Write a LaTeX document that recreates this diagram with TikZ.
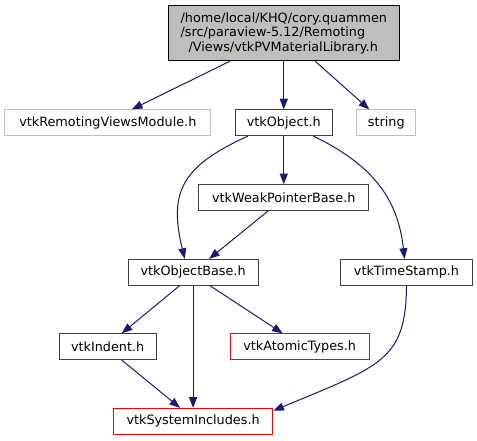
\documentclass[tikz,border=0pt]{standalone}
\usepackage{fontspec}
\setmainfont{DejaVu Sans}
\usetikzlibrary{arrows.meta,calc}
\definecolor{edgeblue}{RGB}{25,25,112}
\definecolor{boxgray}{RGB}{64,64,64}
\definecolor{lightgray}{RGB}{191,191,191}
\begin{document}
\begin{tikzpicture}[x=0.75pt,y=-0.75pt,
  every node/.style={font=\fontsize{9.6pt}{10.9pt}\selectfont, inner sep=0pt, line width=0.75pt},
  hbox/.style={draw=boxgray, fill=white, minimum height=19.2pt},
  gbox/.style={draw=lightgray, fill=white, minimum height=19.2pt},
  rbox/.style={draw=red, fill=white, minimum height=19.2pt},
  edge/.style={draw=edgeblue, line width=0.75pt, -{Triangle[length=8pt,width=6pt]}}
]
\useasboundingbox (0,0) rectangle (477,440);
\node[draw=black, fill=lightgray, minimum width=173.25pt, minimum height=41.25pt, align=left] (top) at (283.8,33.3)
  {/home/local/KHQ/cory.quammen\\/src/paraview-5.12/Remoting\\\hspace*{6pt}/Views/vtkPVMaterialLibrary.h};
\node[gbox, minimum width=154.25pt] (rvm) at (107.8,122.7) {vtkRemotingViewsModule.h};
\node[hbox, minimum width=73pt] (obj) at (283.8,122.7) {vtkObject.h};
\node[gbox, minimum width=44.5pt] (str) at (386.3,122.7) {string};
\node[hbox, minimum width=127.25pt] (wpb) at (283.8,197.5) {vtkWeakPointerBase.h};
\node[hbox, minimum width=97.5pt] (ob) at (193.1,272.2) {vtkObjectBase.h};
\node[hbox, minimum width=98.75pt] (ts) at (406.5,272.2) {vtkTimeStamp.h};
\node[hbox, minimum width=72.5pt] (ind) at (107.7,346.7) {vtkIndent.h};
\node[rbox, minimum width=104.5pt] (at) at (299.7,346.7) {vtkAtomicTypes.h};
\node[rbox, minimum width=119.5pt] (si) at (193.1,421.2) {vtkSystemIncludes.h};

\draw[edge] ($(top.south)+(-54,0)$) -- ($(rvm.north)+(24,0)$);
\draw[edge] (top.south -| obj.north) -- (obj.north);
\draw[edge] ($(top.south)+(31.5,0)$) -- ($(str.north)+(-17,0)$);
\draw[edge] (obj.south) -- (wpb.north);
\draw[edge] ($(obj.south)+(-35.8,0)$) .. controls (185,165) and (167.5,189) .. ($(ob.north)+(-8.3,0)$);
\draw[edge] ($(obj.south)+(29.5,0)$) .. controls (373,165) and (398,199) .. ($(ts.north)+(-2,0)$);
\draw[edge] ($(wpb.south)+(-15.5,0)$) -- ($(ob.north)+(16,0)$);
\draw[edge] ($(ob.south)+(-13.3,0)$) -- ($(ind.north)+(14,0)$);
\draw[edge] (ob.south) -- (si.north);
\draw[edge] ($(ob.south)+(16.7,0)$) -- ($(at.north)+(-17,0)$);
\draw[edge] ($(ind.south)+(14,0)$) -- ($(si.north)+(-13,0)$);
\draw[edge] (ts.south) .. controls (406,360) and (381,366) .. ($(si.east)+(0,-10.5)$);
\end{tikzpicture}
\end{document}
